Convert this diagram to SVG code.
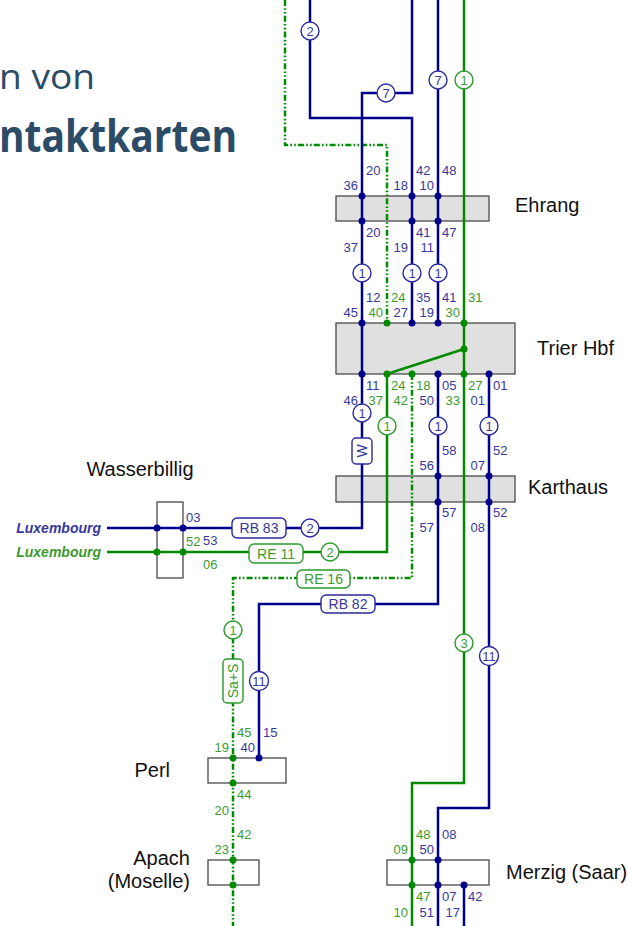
<svg xmlns="http://www.w3.org/2000/svg" width="628" height="926" viewBox="0 0 628 926">
<defs>
<style>
.title{font-family:"Open Sans","Noto Sans",sans-serif;fill:#2b4b66}
.st{font-family:"Liberation Sans",Arial,sans-serif;font-size:20px;fill:#111}
.n{font-family:"Liberation Sans",Arial,sans-serif;font-size:13px}
.nb{fill:#38389c}
.ng{fill:#3d9a2e}
.box{fill:#e0e0e0;stroke:#4a4a4a;stroke-width:1.3}
.wbox{fill:#fff;stroke:#4a4a4a;stroke-width:1.3}
.lb{fill:none;stroke:#00008b;stroke-width:2.5}
.lg{fill:none;stroke:#008a00;stroke-width:2.5}
.ld{fill:none;stroke:#008a00;stroke-width:2.5;stroke-dasharray:6 2.2 1.6 2.2 1.6 2.2}
.db{fill:#00008b}
.dg{fill:#008a00}
.cb{fill:#fff;stroke:#2a2aa0;stroke-width:1.4}
.cg{fill:#fff;stroke:#2a9a2a;stroke-width:1.4}
.ct{font-family:"Liberation Sans",Arial,sans-serif;font-size:13px;text-anchor:middle}
.tb{fill:#fff;stroke:#2a2aa0;stroke-width:1.4}
.tg{fill:#fff;stroke:#2a9a2a;stroke-width:1.4}
.tt{font-family:"Liberation Sans",Arial,sans-serif;font-size:14px;text-anchor:middle}
.lux{font-family:"Liberation Sans",Arial,sans-serif;font-size:14px;font-weight:bold;font-style:italic;text-anchor:end}
.e{text-anchor:end}
</style>
</defs>

<g id="title">
<text class="title" x="-1" y="89" font-size="34" textLength="96" lengthAdjust="spacingAndGlyphs">n von</text>
<text class="title" x="-1" y="152" font-size="44" font-weight="bold" textLength="238" lengthAdjust="spacingAndGlyphs">ntaktkarten</text>
</g>

<g id="node-ehrang">
<rect class="box" x="336" y="196" width="153" height="25"/>
<text class="st" x="515" y="212">Ehrang</text>
</g>
<g id="node-trier">
<rect class="box" x="336" y="323" width="179" height="51"/>
<text class="st" x="537" y="355">Trier Hbf</text>
</g>
<g id="node-karthaus">
<rect class="box" x="336" y="476" width="179" height="26"/>
<text class="st" x="528" y="494">Karthaus</text>
</g>
<g id="node-wasserbillig">
<rect class="wbox" x="157" y="502" width="26" height="76"/>
<text class="st" x="140" y="476" text-anchor="middle">Wasserbillig</text>
</g>
<g id="node-perl">
<rect class="wbox" x="208" y="758" width="78" height="25"/>
<text class="st e" x="170" y="777">Perl</text>
</g>
<g id="node-apach">
<rect class="wbox" x="208" y="860" width="51" height="25"/>
<text class="st e" x="190" y="865">Apach</text>
<text class="st e" x="190" y="888">(Moselle)</text>
</g>
<g id="node-merzig">
<rect class="wbox" x="387" y="860" width="102" height="25"/>
<text class="st" x="506" y="879">Merzig (Saar)</text>
</g>

<g id="connectors">
<path class="ld" d="M285,0 V145 H387 V323"/>
<path class="ld" d="M412,374 V578 H233 V926"/>
<path class="lb" d="M310,0 V118 H412 V323"/>
<path class="lb" d="M412,0 V93 H362 V528 H107"/>
<path class="lb" d="M438,0 V323"/>
<path class="lb" d="M438,374 V604 H259 V758"/>
<path class="lb" d="M489,374 V808 H438 V926"/>
<path class="lb" d="M464,885 V926"/>
<path class="lg" d="M464,0 V783 H412 V926"/>
<path class="lg" d="M464,349 L387,374"/>
<path class="lg" d="M387,374 V552 H107"/>
</g>

<g id="ports">
<g class="db">
<circle cx="362" cy="196" r="3.5"/><circle cx="412" cy="196" r="3.5"/><circle cx="438" cy="196" r="3.5"/>
<circle cx="362" cy="221" r="3.5"/><circle cx="412" cy="221" r="3.5"/><circle cx="438" cy="221" r="3.5"/>
<circle cx="362" cy="323" r="3.5"/><circle cx="412" cy="323" r="3.5"/><circle cx="438" cy="323" r="3.5"/>
<circle cx="362" cy="374" r="3.5"/><circle cx="438" cy="374" r="3.5"/><circle cx="489" cy="374" r="3.5"/>
<circle cx="438" cy="476" r="3.5"/><circle cx="489" cy="476" r="3.5"/>
<circle cx="438" cy="502" r="3.5"/><circle cx="489" cy="502" r="3.5"/>
<circle cx="157" cy="528" r="3.5"/><circle cx="183" cy="528" r="3.5"/>
<circle cx="259" cy="758" r="3.5"/>
<circle cx="438" cy="860" r="3.5"/><circle cx="438" cy="885" r="3.5"/><circle cx="464" cy="885" r="3.5"/>
</g>
<g class="dg">
<circle cx="387" cy="323" r="3.5"/><circle cx="464" cy="323" r="3.5"/>
<circle cx="464" cy="349" r="3.5"/>
<circle cx="387" cy="374" r="3.5"/><circle cx="412" cy="374" r="3.5"/><circle cx="464" cy="374" r="3.5"/>
<circle cx="157" cy="552" r="3.5"/><circle cx="183" cy="552" r="3.5"/>
<circle cx="233" cy="758" r="3.5"/><circle cx="233" cy="783" r="3.5"/>
<circle cx="233" cy="860" r="3.5"/><circle cx="233" cy="885" r="3.5"/>
<circle cx="412" cy="860" r="3.5"/><circle cx="412" cy="885" r="3.5"/>
</g>
</g>

<g id="line-numbers">
<g class="n nb">
<text x="366" y="175">20</text><text x="416" y="175">42</text><text x="442" y="175">48</text>
<text x="358" y="190" class="e">36</text><text x="408" y="190" class="e">18</text><text x="434" y="190" class="e">10</text>
<text x="366" y="237">20</text><text x="416" y="237">41</text><text x="442" y="237">47</text>
<text x="358" y="252" class="e">37</text><text x="408" y="252" class="e">19</text><text x="434" y="252" class="e">11</text>
<text x="366" y="302">12</text><text x="416" y="302">35</text><text x="442" y="302">41</text>
<text x="358" y="317" class="e">45</text><text x="408" y="317" class="e">27</text><text x="434" y="317" class="e">19</text>
<text x="366" y="390">11</text><text x="442" y="390">05</text><text x="493" y="390">01</text>
<text x="358" y="405" class="e">46</text><text x="434" y="405" class="e">50</text><text x="485" y="405" class="e">01</text>
<text x="442" y="455">58</text><text x="493" y="455">52</text>
<text x="434" y="470" class="e">56</text><text x="485" y="470" class="e">07</text>
<text x="442" y="517">57</text><text x="493" y="517">52</text>
<text x="434" y="532" class="e">57</text><text x="485" y="532" class="e">08</text>
<text x="186" y="522">03</text><text x="203" y="545">53</text>
<text x="263" y="737">15</text><text x="255" y="752" class="e">40</text>
<text x="442" y="839">08</text><text x="434" y="854" class="e">50</text>
<text x="442" y="901">07</text><text x="468" y="901">42</text>
<text x="434" y="917" class="e">51</text><text x="460" y="917" class="e">17</text>
</g>
<g class="n ng">
<text x="391" y="302">24</text><text x="468" y="302">31</text>
<text x="383" y="317" class="e">40</text><text x="460" y="317" class="e">30</text>
<text x="391" y="390">24</text><text x="416" y="390">18</text><text x="468" y="390">27</text>
<text x="383" y="405" class="e">37</text><text x="408" y="405" class="e">42</text><text x="460" y="405" class="e">33</text>
<text x="186" y="546">52</text><text x="203" y="569">06</text>
<text x="237" y="737">45</text><text x="229" y="752" class="e">19</text>
<text x="237" y="799">44</text><text x="229" y="815" class="e">20</text>
<text x="237" y="839">42</text><text x="229" y="854" class="e">23</text>
<text x="416" y="839">48</text><text x="408" y="854" class="e">09</text>
<text x="416" y="901">47</text><text x="408" y="917" class="e">10</text>
</g>
</g>

<g id="route-markers">
<g id="c-b2-top"><circle class="cb" cx="310" cy="31" r="9"/><text class="ct nb" x="310" y="35.5">2</text></g>
<g id="c-b7a"><circle class="cb" cx="386" cy="93" r="9"/><text class="ct nb" x="386" y="97.5">7</text></g>
<g id="c-b7b"><circle class="cb" cx="438" cy="80" r="9"/><text class="ct nb" x="438" y="84.5">7</text></g>
<g id="c-g1a"><circle class="cg" cx="464" cy="80" r="9"/><text class="ct ng" x="464" y="84.5">1</text></g>
<g id="c-b1a"><circle class="cb" cx="362" cy="273" r="9"/><text class="ct nb" x="362" y="277.5">1</text></g>
<g id="c-b1b"><circle class="cb" cx="412" cy="273" r="9"/><text class="ct nb" x="412" y="277.5">1</text></g>
<g id="c-b1c"><circle class="cb" cx="438" cy="273" r="9"/><text class="ct nb" x="438" y="277.5">1</text></g>
<g id="c-b1d"><circle class="cb" cx="362" cy="413" r="9"/><text class="ct nb" x="362" y="417.5">1</text></g>
<g id="c-g1b"><circle class="cg" cx="387" cy="426" r="9"/><text class="ct ng" x="387" y="430.5">1</text></g>
<g id="c-b1e"><circle class="cb" cx="438" cy="426" r="9"/><text class="ct nb" x="438" y="430.5">1</text></g>
<g id="c-b1f"><circle class="cb" cx="489" cy="426" r="9"/><text class="ct nb" x="489" y="430.5">1</text></g>
<g id="c-b2"><circle class="cb" cx="310" cy="528" r="9"/><text class="ct nb" x="310" y="532.5">2</text></g>
<g id="c-g2"><circle class="cg" cx="330" cy="552" r="9"/><text class="ct ng" x="330" y="556.5">2</text></g>
<g id="c-g1c"><circle class="cg" cx="233" cy="630" r="9"/><text class="ct ng" x="233" y="634.5">1</text></g>
<g id="c-b11a"><circle class="cb" cx="259" cy="681" r="9.5"/><text class="ct nb" x="259" y="685.5">11</text></g>
<g id="c-g3"><circle class="cg" cx="464" cy="643" r="9"/><text class="ct ng" x="464" y="647.5">3</text></g>
<g id="c-b11b"><circle class="cb" cx="489" cy="656" r="9.5"/><text class="ct nb" x="489" y="660.5">11</text></g>

<g id="t-w"><rect class="tb" x="352" y="438" width="20" height="26" rx="4"/><text class="tt nb" transform="translate(367,451) rotate(-90)">W</text></g>
<g id="t-sas"><rect class="tg" x="223" y="659" width="20" height="44" rx="4"/><text class="tt ng" transform="translate(238,681) rotate(-90)">Sa+S</text></g>
<g id="t-rb83"><rect class="tb" x="232" y="518" width="54" height="20" rx="5"/><text class="tt nb" x="259" y="533">RB 83</text></g>
<g id="t-re11"><rect class="tg" x="249" y="544" width="54" height="19" rx="5"/><text class="tt ng" x="276" y="558.5">RE 11</text></g>
<g id="t-re16"><rect class="tg" x="297" y="570" width="53" height="18" rx="5"/><text class="tt ng" x="323.5" y="584">RE 16</text></g>
<g id="t-rb82"><rect class="tb" x="321" y="595" width="54" height="18" rx="5"/><text class="tt nb" x="348" y="609">RB 82</text></g>
</g>

<g id="lux">
<text class="lux nb" x="101" y="533">Luxembourg</text>
<text class="lux ng" x="101" y="557">Luxembourg</text>
</g>
</svg>
